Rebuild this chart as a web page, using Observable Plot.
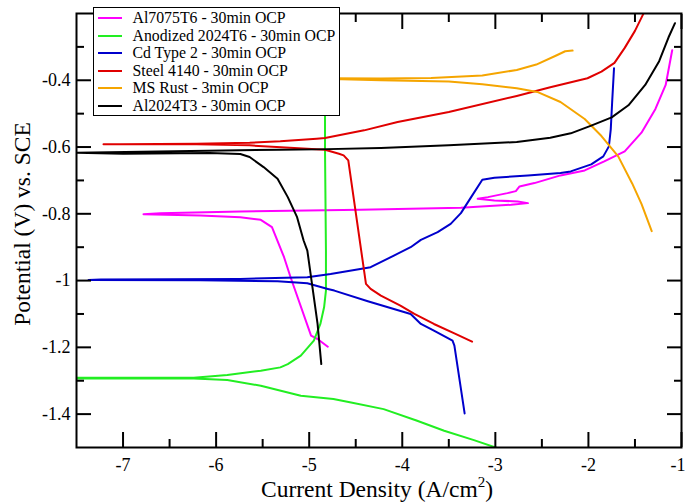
<!DOCTYPE html>
<html><head><meta charset="utf-8">
<script src="https://cdn.jsdelivr.net/npm/d3@7"></script>
<script src="https://cdn.jsdelivr.net/npm/@observablehq/plot@0.6"></script>
<style>
body{margin:0;background:#fff;}
#wrap{position:relative;width:685px;height:503px;font-family:"Liberation Serif","Times New Roman","DejaVu Serif",serif;color:#000;}
#legend{position:absolute;left:93px;top:7px;width:245px;height:107px;border:1.5px solid #000;background:#fff;}
.row{position:absolute;left:0;height:16px;font-size:15.8px;line-height:16px;white-space:nowrap;}
.sw{position:absolute;left:3.5px;top:7px;width:24px;height:2px;}
.lab{position:absolute;left:38.5px;top:0;}
.title{position:absolute;white-space:nowrap;font-size:23.5px;transform:translate(-50%,-50%);}
.ytitle{transform:translate(-50%,-50%) rotate(-90deg);}
sup{font-size:15px;vertical-align:10px;line-height:0;}
</style></head><body><div id="wrap"></div>
<script>
// ---- data ----
const seriesNames = ["Al7075T6 - 30min OCP","Anodized 2024T6 - 30min OCP","Cd Type 2 - 30min OCP","Steel 4140 - 30min OCP","MS Rust - 3min OCP","Al2024T3 - 30min OCP"];
const seriesColors = ["#ff00ff","#22ee22","#0000cc","#e00000","#f5a500","#000000"];

const al7075X = [-4.80,-4.91,-4.98,-5.20,-5.27,-5.40,-5.52,-5.74,-6.17,-6.78,-6.60,-5.74,-4.45,-3.37,-2.83,-2.65,-2.76,-3.01,-3.19,-3.08,-2.87,-2.78,-2.74,-2.58,-2.30,-2.04,-1.83,-1.61,-1.43,-1.28,-1.17,-1.10];
const al7075Y = [-1.198,-1.175,-1.165,-0.990,-0.930,-0.840,-0.818,-0.810,-0.805,-0.801,-0.798,-0.793,-0.788,-0.782,-0.773,-0.768,-0.763,-0.760,-0.755,-0.750,-0.738,-0.732,-0.718,-0.708,-0.685,-0.670,-0.643,-0.613,-0.557,-0.486,-0.414,-0.310];

const anodX = [-2.89,-3.23,-3.55,-3.84,-4.20,-4.55,-4.74,-5.09,-5.52,-5.88,-6.24,-7.03,-7.50,-7.50,-6.24,-5.88,-5.52,-5.31,-5.23,-5.09,-4.95,-4.88,-4.84,-4.82,-4.82,-4.83,-4.83];
const anodY = [-1.510,-1.478,-1.450,-1.420,-1.385,-1.365,-1.355,-1.345,-1.315,-1.298,-1.293,-1.293,-1.293,-1.291,-1.291,-1.283,-1.270,-1.260,-1.250,-1.225,-1.180,-1.130,-1.080,-1.030,-0.910,-0.610,-0.480];

const cdX = [-3.33,-3.44,-3.46,-3.66,-3.80,-3.91,-4.37,-4.73,-4.80,-5.02,-5.34,-6.17,-7.37,-7.24,-5.74,-5.02,-4.77,-4.34,-4.09,-3.91,-3.80,-3.62,-3.48,-3.37,-3.26,-3.14,-3.01,-2.65,-2.30,-2.19,-1.97,-1.84,-1.78,-1.76,-1.745,-1.725];
const cdY = [-1.398,-1.195,-1.180,-1.150,-1.130,-1.100,-1.062,-1.030,-1.025,-1.008,-1.002,-0.999,-0.998,-0.997,-0.995,-0.990,-0.980,-0.960,-0.925,-0.900,-0.878,-0.855,-0.830,-0.798,-0.750,-0.698,-0.692,-0.685,-0.678,-0.673,-0.652,-0.628,-0.598,-0.547,-0.465,-0.364];

const steelX = [-3.25,-3.44,-3.66,-3.87,-4.02,-4.23,-4.34,-4.39,-4.58,-4.63,-4.68,-4.83,-5.35,-5.64,-6.21,-7.21,-7.03,-6.21,-5.64,-5.31,-4.92,-4.83,-4.41,-4.05,-3.50,-2.77,-2.41,-2.01,-1.86,-1.72,-1.61,-1.50,-1.41,-1.35];
const steelY = [-1.183,-1.158,-1.130,-1.100,-1.075,-1.045,-1.025,-1.010,-0.640,-0.625,-0.620,-0.608,-0.600,-0.595,-0.592,-0.592,-0.592,-0.590,-0.587,-0.583,-0.575,-0.573,-0.550,-0.525,-0.495,-0.447,-0.421,-0.394,-0.374,-0.348,-0.303,-0.252,-0.201,-0.172];

const rustX = [-1.32,-1.43,-1.53,-1.68,-1.86,-2.04,-2.30,-2.55,-2.77,-3.14,-3.50,-4.23,-4.65,-4.77,-4.77,-4.23,-3.69,-3.14,-2.77,-2.56,-2.34,-2.25,-2.17];
const rustY = [-0.852,-0.770,-0.709,-0.628,-0.567,-0.516,-0.465,-0.435,-0.424,-0.412,-0.404,-0.400,-0.397,-0.397,-0.394,-0.395,-0.393,-0.386,-0.369,-0.353,-0.325,-0.313,-0.311];

const al2024X = [-4.87,-4.91,-4.97,-5.02,-5.06,-5.13,-5.23,-5.34,-5.49,-5.64,-5.74,-6.07,-7.00,-7.50,-5.31,-4.92,-4.23,-3.50,-2.77,-2.41,-2.19,-1.97,-1.75,-1.57,-1.39,-1.24,-1.14,-1.07];
const al2024Y = [-1.250,-1.130,-1.010,-0.910,-0.880,-0.810,-0.750,-0.695,-0.660,-0.630,-0.621,-0.618,-0.620,-0.617,-0.608,-0.607,-0.603,-0.595,-0.585,-0.572,-0.559,-0.536,-0.511,-0.475,-0.414,-0.343,-0.272,-0.229];

const xMajorTicks = [-7,-6,-5,-4,-3,-2,-1];
const xLabelTicks = [-7,-6,-5,-4,-3,-2];
const xEdgeTick = [-1];
const xMinorTicks = [-6.5,-5.5,-4.5,-3.5,-2.5,-1.5];
const yMajorTicks = [-1.4,-1.2,-1,-0.8,-0.6,-0.4];
const yMinorTicks = [-1.3,-1.1,-0.9,-0.7,-0.5,-0.3];
const xTitle = "Current Density (A/cm<sup>2</sup>)";
const yTitle = "Potential (V) vs. SCE";

// ---- build table ----
const seriesXs = [al7075X, anodX, cdX, steelX, rustX, al2024X];
const seriesYs = [al7075Y, anodY, cdY, steelY, rustY, al2024Y];
const rows = [];
seriesNames.forEach((name, k) => {
  seriesXs[k].forEach((x, i) => rows.push({series: name, x, y: seriesYs[k][i]}));
});
const fmt = d => String(d);
const tickStyle = {fill: "none", label: null, strokeWidth: 2, stroke: "black"};
const font = '"Liberation Serif", "Times New Roman", "DejaVu Serif", serif';

const chart = Plot.plot({
  width: 685, height: 503,
  marginLeft: 76, marginRight: 4, marginTop: 13, marginBottom: 56,
  style: {fontFamily: font, fontSize: "18px", background: "white", color: "black", overflow: "visible"},
  x: {domain: [-7.5, -1]},
  y: {domain: [-1.5, -0.2]},
  color: {type: "ordinal", domain: seriesNames, range: seriesColors},
  marks: [
    Plot.line(rows, {x: "x", y: "y", z: "series", stroke: "series", strokeWidth: 2, clip: true}),
    Plot.frame({stroke: "black", strokeWidth: 2}),
    Plot.axisX(xMajorTicks, {anchor: "bottom", tickSize: -15, ...tickStyle}),
    Plot.axisX(xMinorTicks, {anchor: "bottom", tickSize: -8, ...tickStyle}),
    Plot.axisX(xMajorTicks, {anchor: "top", tickSize: -15, ...tickStyle}),
    Plot.axisX(xMinorTicks, {anchor: "top", tickSize: -8, ...tickStyle}),
    Plot.axisY(yMajorTicks, {anchor: "left", tickSize: -15, ...tickStyle}),
    Plot.axisY(yMinorTicks, {anchor: "left", tickSize: -8, ...tickStyle}),
    Plot.axisY(yMajorTicks, {anchor: "right", tickSize: -15, ...tickStyle}),
    Plot.axisY(yMinorTicks, {anchor: "right", tickSize: -8, ...tickStyle}),
    Plot.axisX(xLabelTicks, {anchor: "bottom", tickSize: 0, tickPadding: 11, tickFormat: fmt, label: null, fontSize: 18}),
    Plot.axisX(xEdgeTick, {anchor: "bottom", tickSize: 0, tickPadding: 11, tickFormat: fmt, label: null, fontSize: 18, textAnchor: "end", dx: 4}),
    Plot.axisY(yMajorTicks, {anchor: "left", tickSize: 0, tickPadding: 6, tickFormat: fmt, label: null, fontSize: 18})
  ]
});

const wrap = document.getElementById("wrap");
wrap.appendChild(chart);

// legend
const legend = document.createElement("div");
legend.id = "legend";
const rowCenters = [10, 27.5, 45, 62.5, 80, 97.5];
seriesNames.forEach((name, k) => {
  const r = document.createElement("div");
  r.className = "row";
  r.style.top = (rowCenters[k] - 8) + "px";
  r.innerHTML = `<div class="sw" style="background:${seriesColors[k]}"></div><div class="lab">${name}</div>`;
  legend.appendChild(r);
});
wrap.appendChild(legend);

const xt = document.createElement("div");
xt.className = "title";
xt.style.left = "377px"; xt.style.top = "489px";
xt.innerHTML = xTitle;
wrap.appendChild(xt);

const yt = document.createElement("div");
yt.className = "title ytitle";
yt.style.left = "22px"; yt.style.top = "224px";
yt.textContent = yTitle;
wrap.appendChild(yt);
</script></body></html>
